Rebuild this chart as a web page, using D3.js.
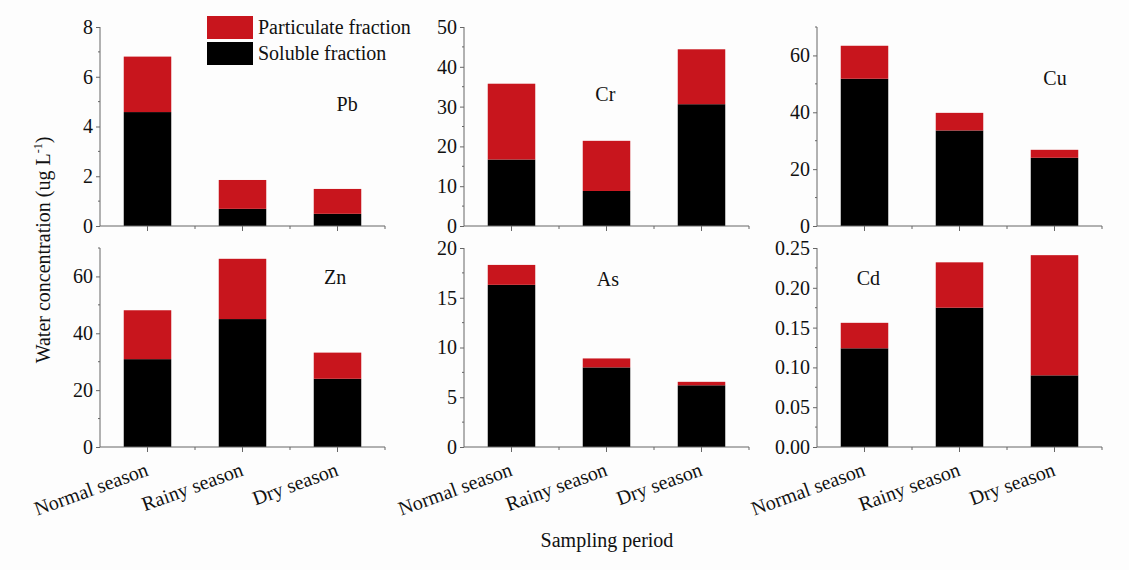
<!DOCTYPE html>
<html>
<head>
<meta charset="utf-8">
<script src="https://cdn.jsdelivr.net/npm/d3@7"></script>
<style>
  html, body { margin: 0; padding: 0; background: #fff; }
  svg { display: block; }
  text { font-family: "Liberation Serif", "Tinos", "DejaVu Serif", "Times New Roman", serif; fill: #111; }
</style>
</head>
<body>
<svg id="chart" width="1129" height="570"></svg>
<script>
// Data (ug/L)
var seasons = ["Normal season", "Rainy season", "Dry season"];
var metals = ["Pb", "Cr", "Cu", "Zn", "As", "Cd"];
var solubleFraction = [
    [4.58, 0.69, 0.49],     // Pb
    [16.7, 8.8, 30.6],      // Cr
    [51.8, 33.6, 24.0],     // Cu
    [30.9, 45.0, 24.0],     // Zn
    [16.3, 8.0, 6.2],       // As
    [0.124, 0.175, 0.090]   // Cd
];
var particulateFraction = [
    [2.23, 1.16, 1.00],
    [19.05, 12.6, 13.8],
    [11.6, 6.2, 2.8],
    [17.2, 21.2, 9.2],
    [2.0, 0.9, 0.35],
    [0.032, 0.057, 0.151]
];
var yMax = [8, 50, 70, 70, 20, 0.25];
var yMajor = [2, 10, 20, 20, 5, 0.05];
var yDecimals = [0, 0, 0, 0, 0, 2];
var legendLabels = ["Particulate fraction", "Soluble fraction"];

var colors = { soluble: "#000000", particulate: "#c8151d" };
var axisColor = "#666";

var svg = d3.select("#chart");
svg.append("rect").attr("width", 1129).attr("height", 570).attr("fill", "#fdfdfd");

// Panel layout (left of y axis, top of plot area)
var colX = [100, 464, 817];
var rowY = [27, 248];
var plotW = 285, plotH = 199;
// where the element name sits, as fraction of the plot area
var labelPos = [[0.867, 0.40], [0.496, 0.35], [0.835, 0.27], [0.825, 0.16], [0.505, 0.17], [0.18, 0.165]];

metals.forEach(function(metal, i) {
    var col = i % 3, row = Math.floor(i / 3);
    var g = svg.append("g")
        .attr("transform", "translate(" + colX[col] + "," + rowY[row] + ")");

    var x = d3.scaleBand().domain(seasons).range([0, plotW]).paddingInner(0).paddingOuter(0);
    var y = d3.scaleLinear().domain([0, yMax[i]]).range([plotH, 0]);
    var barW = x.bandwidth() * 0.5;

    // stacked bars
    var rows = seasons.map(function(s, j) {
        return { season: s, soluble: solubleFraction[i][j], particulate: particulateFraction[i][j] };
    });
    var stack = d3.stack().keys(["soluble", "particulate"])(rows);
    g.selectAll("g.layer").data(stack).enter().append("g")
        .attr("class", "layer")
        .attr("fill", function(d) { return colors[d.key]; })
        .selectAll("rect").data(function(d) { return d; }).enter().append("rect")
        .attr("x", function(d) { return x(d.data.season) + (x.bandwidth() - barW) / 2; })
        .attr("width", barW)
        .attr("y", function(d) { return y(d[1]); })
        .attr("height", function(d) { return y(d[0]) - y(d[1]); });

    // y axis: major ticks labelled, minor ticks halfway
    var nMajor = Math.floor(yMax[i] / yMajor[i] + 1e-9);
    var majorTicks = d3.range(0, nMajor + 1).map(function(k) { return +(k * yMajor[i]).toFixed(4); });
    var minorTicks = d3.range(0, Math.floor(2 * yMax[i] / yMajor[i] + 1e-9) + 1)
        .map(function(k) { return +(k * yMajor[i] / 2).toFixed(4); })
        .filter(function(v) { return majorTicks.indexOf(v) < 0; });

    var yAxis = g.append("g").attr("class", "y axis")
        .call(d3.axisLeft(y).tickValues(majorTicks).tickSize(4).tickPadding(3)
            .tickFormat(function(v) { return v.toFixed(yDecimals[i]); }));
    yAxis.append("g").selectAll("line").data(minorTicks).enter().append("line")
        .attr("x1", -2).attr("x2", 0)
        .attr("y1", function(v) { return y(v); }).attr("y2", function(v) { return y(v); });
    yAxis.select(".domain").attr("d", "M0," + y(yMax[i]) + "V" + plotH);

    // x axis
    var xAxis = g.append("g").attr("class", "x axis")
        .attr("transform", "translate(0," + plotH + ")")
        .call(d3.axisBottom(x).tickSize(5).tickFormat(row === 1 ? null : ""));
    xAxis.select(".domain").attr("d", "M0,0H" + plotW);
    xAxis.append("g").selectAll("line").data(seasons.slice(1).concat(["end"])).enter().append("line")
        .attr("x1", function(s) { return s === "end" ? plotW : x(s); })
        .attr("x2", function(s) { return s === "end" ? plotW : x(s); })
        .attr("y1", 0).attr("y2", 3);
    if (row === 1) {
        xAxis.selectAll(".tick text")
            .attr("text-anchor", "end")
            .attr("y", 0)
            .attr("dy", 0)
            .attr("transform", "translate(2,28) rotate(-20)");
    }

    svg.selectAll(".axis path, .axis line").attr("stroke", axisColor);
    g.selectAll(".axis text").attr("font-size", 20).attr("fill", "#111");

    g.append("text")
        .attr("x", labelPos[i][0] * plotW)
        .attr("y", labelPos[i][1] * plotH)
        .attr("text-anchor", "middle")
        .attr("dominant-baseline", "middle")
        .attr("font-size", 20)
        .text(metal);
});

// legend
var legend = svg.append("g").attr("transform", "translate(207,16)");
var legendColors = [colors.particulate, colors.soluble];
legendLabels.forEach(function(lbl, k) {
    legend.append("rect").attr("x", 0).attr("y", k * 26).attr("width", 46).attr("height", 23)
        .attr("fill", legendColors[k]);
    legend.append("text").attr("x", 51).attr("y", k * 26 + 18).attr("font-size", 20).text(lbl);
});

// axis titles
var yTitle = svg.append("text")
    .attr("transform", "translate(50,250) rotate(-90)")
    .attr("text-anchor", "middle")
    .attr("font-size", 20);
yTitle.append("tspan").text("Water concentration (ug L");
yTitle.append("tspan").attr("font-size", 12).attr("dy", -8).text("-1");
yTitle.append("tspan").attr("dy", 8).text(")");

svg.append("text")
    .attr("x", 607).attr("y", 547)
    .attr("text-anchor", "middle")
    .attr("font-size", 20)
    .text("Sampling period");
</script>
</body>
</html>
